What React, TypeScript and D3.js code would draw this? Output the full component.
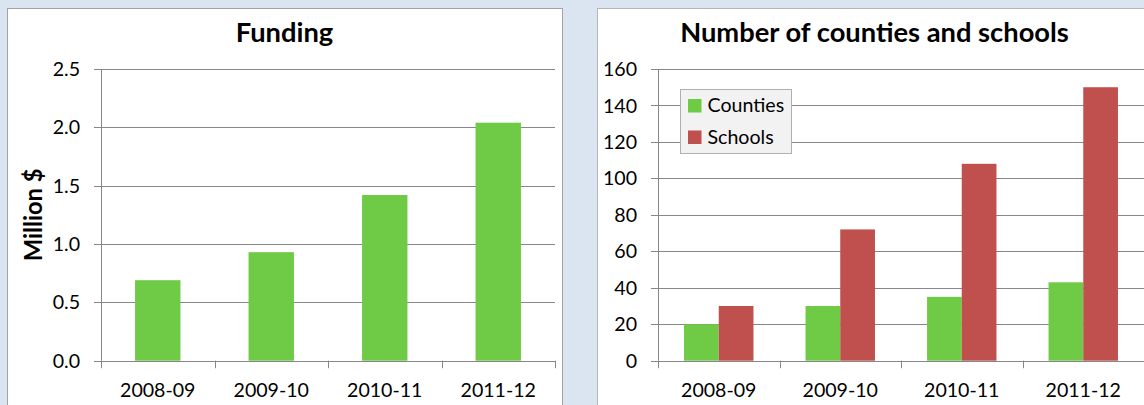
import React from "react";
import * as d3 from "d3";

const years = ["2008-09", "2009-10", "2010-11", "2011-12"];
const funding = [0.69, 0.93, 1.42, 2.04];
const counties = [20, 30, 35, 43];
const schools = [30, 72, 108, 150];
const seriesNames = ["Counties", "Schools"];
const fundingTicks = [0, 0.5, 1.0, 1.5, 2.0, 2.5];
const countTicks = [0, 20, 40, 60, 80, 100, 120, 140, 160];

const GREEN = "#6fcb45";
const RED = "#c0504d";
const GRID = "#878787";
const FONT = "Lato, 'Open Sans', sans-serif";

const W = 1144;
const H = 405;
const TOP = 69;
const BOTTOM = 360.7;

function Axes({ x, y, ticks, fmt }: any) {
  const [x0, x1] = x.range();
  const step = x.step();
  const bounds = d3.range(years.length + 1).map((i) => x0 + i * step);
  return (
    <g>
      {ticks.map((t: number) => (
        <g key={t}>
          <line x1={x0 - 7} x2={t === 0 ? x0 : x1} y1={Math.round(y(t)) + 0.5} y2={Math.round(y(t)) + 0.5} stroke={GRID} strokeWidth={1} />
          <text x={x0 - 21} y={y(t)} dy="0.36em" textAnchor="end" fontSize={19.6} fontFamily={FONT} fill="#000">
            {fmt(t)}
          </text>
        </g>
      ))}
      <line x1={x0 + 0.5} x2={x0 + 0.5} y1={y.range()[1]} y2={y.range()[0]} stroke={GRID} />
      <line x1={x0} x2={x1} y1={Math.round(y(0)) + 0.5} y2={Math.round(y(0)) + 0.5} stroke={GRID} />
      {bounds.map((b, i) => (
        <line key={i} x1={Math.round(b) + 0.5} x2={Math.round(b) + 0.5} y1={y(0)} y2={y(0) + 7.5} stroke={GRID} />
      ))}
      {years.map((c) => (
        <text key={c} x={x(c) + x.bandwidth() / 2} y={397} textAnchor="middle" fontSize={19.6} fontFamily={FONT} fill="#000">
          {c}
        </text>
      ))}
    </g>
  );
}

export default function App() {
  // Left chart
  const xL = d3.scaleBand().domain(years).range([101, 555]).paddingInner(0.6).paddingOuter(0.3);
  const yL = d3.scaleLinear().domain([0, 2.5]).range([BOTTOM, TOP]);
  // Right chart
  const xR = d3.scaleBand().domain(years).range([658, 1144]).paddingInner(1.5 / 3.5).paddingOuter(0.75 / 3.5);
  const xS = d3.scaleBand().domain(seriesNames).range([0, xR.bandwidth()]);
  const yR = d3.scaleLinear().domain([0, 160]).range([BOTTOM, TOP]);
  const series = [counties, schools];
  const colors = [GREEN, RED];

  return (
    <svg width={W} height={H} style={{ position: "absolute", left: 0, top: 0, display: "block" }}>
      <rect x={0} y={0} width={W} height={H} fill="#dbe5f1" />
      <rect x={7.5} y={8.5} width={555} height={460} fill="#fff" stroke="#a3a3a3" />
      <rect x={597.5} y={8.5} width={555} height={460} fill="#fff" stroke="#b5b5b5" />

      {/* Left: Funding */}
      <text x={284.5} y={42} textAnchor="middle" fontSize={27.3} fontWeight="bold" fontFamily={FONT} fill="#000">
        Funding
      </text>
      <Axes x={xL} y={yL} ticks={fundingTicks} fmt={d3.format(".1f")} />
      {funding.map((v, i) => (
        <rect key={i} x={xL(years[i])} y={yL(v)} width={xL.bandwidth()} height={yL(0) - yL(v)} fill={GREEN} />
      ))}
      <text transform={`translate(42,${(TOP + BOTTOM) / 2}) rotate(-90)`} textAnchor="middle" fontSize={23.8} fontWeight="bold" fontFamily={FONT} fill="#000">
        Million $
      </text>

      {/* Right: counties and schools */}
      <text x={874.5} y={42} textAnchor="middle" fontSize={27.3} fontWeight="bold" fontFamily={FONT} fill="#000">
        Number of counties and schools
      </text>
      <Axes x={xR} y={yR} ticks={countTicks} fmt={d3.format("d")} />
      {series.map((vals, s) =>
        vals.map((v, i) => (
          <rect key={`${s}-${i}`} x={(xR(years[i]) as number) + (xS(seriesNames[s]) as number)} y={yR(v)} width={xS.bandwidth()} height={yR(0) - yR(v)} fill={colors[s]} />
        ))
      )}
      <g>
        <rect x={680.5} y={89.5} width={111} height={64} fill="#f2f2f2" stroke="#b0b0b0" />
        {seriesNames.map((n, s) => (
          <g key={n}>
            <rect x={688} y={99 + s * 31.5} width={13.5} height={13.5} fill={colors[s]} />
            <text x={707.5} y={112 + s * 32} fontSize={19.6} fontFamily={FONT} fill="#000">
              {n}
            </text>
          </g>
        ))}
      </g>
    </svg>
  );
}
